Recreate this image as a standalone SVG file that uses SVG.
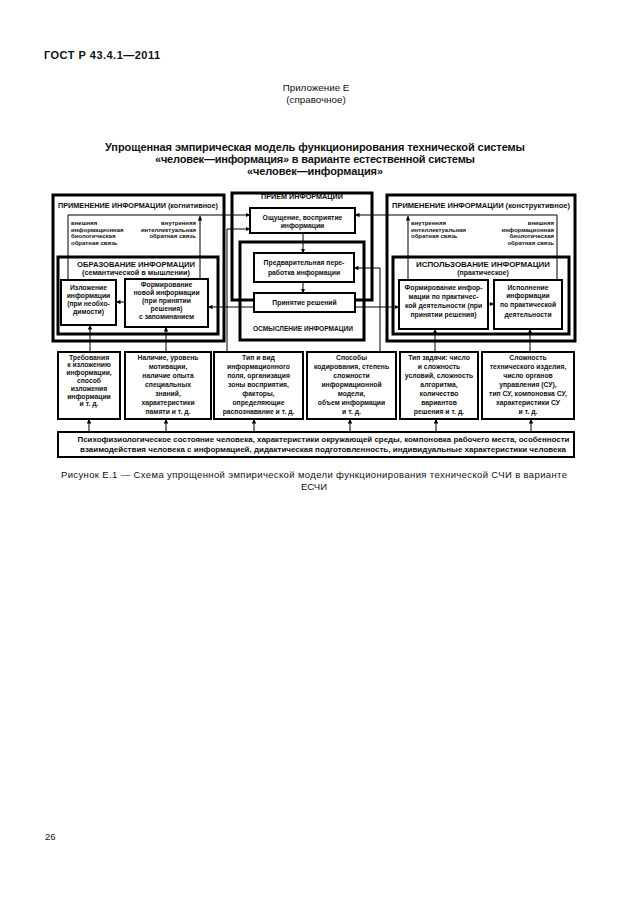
<svg xmlns="http://www.w3.org/2000/svg" width="630" height="913" viewBox="0 0 630 913">
<style>
text{font-family:"Liberation Sans",Arial,sans-serif;fill:#111}
.b{font-weight:bold}
.t{font-weight:bold;font-size:6.8px;text-anchor:middle}
.h{font-weight:bold;font-size:7px;text-anchor:middle}
.f{font-weight:bold;font-size:6px}
.e{text-anchor:end}
.th{fill:none;stroke:#000;stroke-width:3}
.bx{fill:#fff;stroke:#000;stroke-width:2}
.ln{fill:none;stroke:#000;stroke-width:1;marker-end:url(#a)}
</style>
<defs>
<marker id="a" viewBox="0 0 6 6" refX="6" refY="3" markerWidth="4.5" markerHeight="4.5" markerUnits="userSpaceOnUse" orient="auto"><path d="M0,0L6,3L0,6z" fill="#000"/></marker>
</defs>
<rect width="630" height="913" fill="#fff"/>

<g id="header">
<text class="b" x="44" y="59" font-size="11" textLength="116">ГОСТ Р 43.4.1—2011</text>
<text x="316" y="91" font-size="9.8" text-anchor="middle" fill="#222">Приложение Е</text>
<text x="316" y="103" font-size="9.8" text-anchor="middle" fill="#222">(справочное)</text>
<text class="b" x="315" y="151" font-size="11" text-anchor="middle" textLength="420">Упрощенная эмпирическая модель функционирования технической системы</text>
<text class="b" x="315" y="163" font-size="11" text-anchor="middle" textLength="320">«человек—информация» в варианте естественной системы</text>
<text class="b" x="315" y="175" font-size="11" text-anchor="middle" textLength="136">«человек—информация»</text>
</g>

<!-- frames -->
<g id="left-group">
<rect class="th" x="53" y="195" width="171" height="146"/>
<text class="h" x="138" y="207.5" textLength="160" lengthAdjust="spacingAndGlyphs">ПРИМЕНЕНИЕ ИНФОРМАЦИИ (когнитивное)</text>
<text class="f" x="71" y="225">внешняя</text>
<text class="f" x="71" y="231.5">информационная</text>
<text class="f" x="71" y="238">биологическая</text>
<text class="f" x="71" y="244.5">обратная связь</text>
<text class="f e" x="196" y="225">внутренняя</text>
<text class="f e" x="196" y="231.5">интеллектуальная</text>
<text class="f e" x="196" y="238">обратная связь</text>
</g>
<g id="obrazovanie">
<rect class="th" x="58" y="257" width="160" height="77"/>
<text class="h" x="136" y="266.5" textLength="118" lengthAdjust="spacingAndGlyphs">ОБРАЗОВАНИЕ ИНФОРМАЦИИ</text>
<text class="h" x="136" y="275" textLength="108" lengthAdjust="spacingAndGlyphs">(семантической в мышлении)</text>
</g>

<g id="right-group">
<rect class="th" x="387" y="195" width="188" height="146"/>
<text class="h" x="481" y="207.5" textLength="178" lengthAdjust="spacingAndGlyphs">ПРИМЕНЕНИЕ ИНФОРМАЦИИ (конструктивное)</text>
<text class="f" x="411" y="225">внутренняя</text>
<text class="f" x="411" y="231.5">интеллектуальная</text>
<text class="f" x="411" y="238">обратная связь</text>
<text class="f e" x="554" y="225">внешняя</text>
<text class="f e" x="554" y="231.5">информационная</text>
<text class="f e" x="554" y="238">биологическая</text>
<text class="f e" x="554" y="244.5">обратная связь</text>
</g>
<g id="ispolzovanie">
<rect class="th" x="393" y="257" width="176" height="77"/>
<text class="h" x="483" y="266.5" textLength="134" lengthAdjust="spacingAndGlyphs">ИСПОЛЬЗОВАНИЕ ИНФОРМАЦИИ</text>
<text class="h" x="483" y="275">(практическое)</text>
</g>

<g id="priem">
<path class="th" d="M254,300H232V193H372V300H355"/>
<text class="h" x="302" y="199" textLength="82" lengthAdjust="spacingAndGlyphs">ПРИЕМ ИНФОРМАЦИИ</text>
</g>
<g id="osmyslenie">
<rect class="th" x="240" y="242" width="124" height="98"/>
<text class="h" x="303" y="331" textLength="100" lengthAdjust="spacingAndGlyphs">ОСМЫСЛЕНИЕ ИНФОРМАЦИИ</text>
</g>

<!-- connectors -->
<g id="connectors">
<path class="ln" d="M68,280V215H250"/>
<path class="ln" d="M200,279V216"/>
<path class="ln" d="M557,280V215H355"/>
<path class="ln" d="M408,280V216"/>
<path class="ln" d="M227,352V229H250"/>
<path class="ln" d="M380,352V268H354"/>
<path class="ln" d="M303,233V253"/>
<path class="ln" d="M303,282V293"/>
<path class="ln" d="M254,307H208"/>
<path class="ln" d="M355,307H399"/>
<path class="ln" d="M125,302H116"/>
<path class="ln" d="M488,304H494"/>
<path class="ln" d="M90,352V325"/>
<path class="ln" d="M166,352V327"/>
<path class="ln" d="M435,352V329"/>
<path class="ln" d="M530,352V329"/>
<path class="ln" d="M89,432V419"/>
<path class="ln" d="M166,432V419"/>
<path class="ln" d="M254,432V419"/>
<path class="ln" d="M350,432V419"/>
<path class="ln" d="M436,432V419"/>
<path class="ln" d="M531,432V419"/>
</g>

<!-- inner nodes -->
<g id="izlozhenie">
<rect class="bx" x="61" y="280" width="55" height="45"/>
<text class="t" x="88.5" y="289.5">Изложение</text>
<text class="t" x="88.5" y="297.5">информации</text>
<text class="t" x="88.5" y="305.5">(при необхо-</text>
<text class="t" x="88.5" y="313.5">димости)</text>
</g>
<g id="formirovanie-novoy">
<rect class="bx" x="125" y="279" width="83" height="48"/>
<text class="t" x="166.5" y="286.5">Формирование</text>
<text class="t" x="166.5" y="294.5">новой информации</text>
<text class="t" x="166.5" y="302.5">(при принятии</text>
<text class="t" x="166.5" y="310.5">решения)</text>
<text class="t" x="166.5" y="319">с запоминанием</text>
</g>
<g id="oshchushchenie">
<rect class="bx" x="250" y="208" width="105" height="25"/>
<text class="t" x="302.5" y="219.5">Ощущение, восприятие</text>
<text class="t" x="302.5" y="227.5">информации</text>
</g>
<g id="pererabotka">
<rect class="bx" x="254" y="253" width="100" height="29"/>
<text class="t" x="304" y="264.5">Предварительная пере-</text>
<text class="t" x="304" y="275">работка информации</text>
</g>
<g id="prinyatie">
<rect class="bx" x="254" y="293" width="101" height="19"/>
<text class="t" x="304.5" y="305">Принятие решений</text>
</g>
<g id="formirovanie-prakt">
<rect class="bx" x="399" y="280" width="89" height="49"/>
<text class="t" x="443.5" y="289.5">Формирование инфор-</text>
<text class="t" x="443.5" y="298.5">мации по практичес-</text>
<text class="t" x="443.5" y="307.5">кой деятельности (при</text>
<text class="t" x="443.5" y="316.5">принятии решения)</text>
</g>
<g id="ispolnenie">
<rect class="bx" x="494" y="280" width="68" height="49"/>
<text class="t" x="528" y="289.5">Исполнение</text>
<text class="t" x="528" y="297.5">информации</text>
<text class="t" x="528" y="307">по практической</text>
<text class="t" x="528" y="316.5">деятельности</text>
</g>

<!-- bottom boxes -->
<g id="box1">
<rect class="bx" x="58" y="352" width="62" height="67"/>
<text class="t" x="89" y="359.5">Требования</text>
<text class="t" x="89" y="367.3">к изложению</text>
<text class="t" x="89" y="375.1">информации,</text>
<text class="t" x="89" y="382.9">способ</text>
<text class="t" x="89" y="390.7">изложения</text>
<text class="t" x="89" y="398.5">информации</text>
<text class="t" x="89" y="406.3">и т. д.</text>
</g>
<g id="box2">
<rect class="bx" x="125" y="352" width="86" height="67"/>
<text class="t" x="168" y="359.5">Наличие, уровень</text>
<text class="t" x="168" y="368.5">мотивации,</text>
<text class="t" x="168" y="377.5">наличие опыта</text>
<text class="t" x="168" y="386.5">специальных</text>
<text class="t" x="168" y="395.5">знаний,</text>
<text class="t" x="168" y="404.5">характеристики</text>
<text class="t" x="168" y="413.5">памяти и т. д.</text>
</g>
<g id="box3">
<rect class="bx" x="214" y="352" width="89" height="67"/>
<text class="t" x="258.5" y="359.5">Тип и вид</text>
<text class="t" x="258.5" y="368.5">информационного</text>
<text class="t" x="258.5" y="377.5">поля, организация</text>
<text class="t" x="258.5" y="386.5">зоны восприятия,</text>
<text class="t" x="258.5" y="395.5">факторы,</text>
<text class="t" x="258.5" y="404.5">определяющие</text>
<text class="t" x="258.5" y="413.5">распознавание и т. д.</text>
</g>
<g id="box4">
<rect class="bx" x="307" y="352" width="89" height="67"/>
<text class="t" x="351.5" y="359.5">Способы</text>
<text class="t" x="351.5" y="368.5">кодирования, степень</text>
<text class="t" x="351.5" y="377.5">сложности</text>
<text class="t" x="351.5" y="386.5">информационной</text>
<text class="t" x="351.5" y="395.5">модели,</text>
<text class="t" x="351.5" y="404.5">объем информации</text>
<text class="t" x="351.5" y="413.5">и т. д.</text>
</g>
<g id="box5">
<rect class="bx" x="400" y="352" width="78" height="67"/>
<text class="t" x="439" y="359.5">Тип задачи: число</text>
<text class="t" x="439" y="368.5">и сложность</text>
<text class="t" x="439" y="377.5">условий, сложность</text>
<text class="t" x="439" y="386.5">алгоритма,</text>
<text class="t" x="439" y="395.5">количество</text>
<text class="t" x="439" y="404.5">вариантов</text>
<text class="t" x="439" y="413.5">решения и т. д.</text>
</g>
<g id="box6">
<rect class="bx" x="482" y="352" width="92" height="67"/>
<text class="t" x="528" y="359.5">Сложность</text>
<text class="t" x="528" y="368.5">технического изделия,</text>
<text class="t" x="528" y="377.5">число органов</text>
<text class="t" x="528" y="386.5">управления (СУ),</text>
<text class="t" x="528" y="395.5">тип СУ, компоновка СУ,</text>
<text class="t" x="528" y="404.5">характеристики СУ</text>
<text class="t" x="528" y="413.5">и т. д.</text>
</g>
<g id="bottom-bar">
<rect class="bx" x="58" y="432" width="516" height="25"/>
<text class="t" x="323.5" y="442" font-size="7.2" textLength="492" lengthAdjust="spacingAndGlyphs">Психофизиологическое состояние человека, характеристики окружающей среды, компоновка рабочего места, особенности</text>
<text class="t" x="323" y="451.5" font-size="7.2" textLength="486" lengthAdjust="spacingAndGlyphs">взаимодействия человека с информацией, дидактическая подготовленность, индивидуальные характеристики человека</text>
</g>

<g id="caption">
<text x="314" y="478" font-size="9.5" text-anchor="middle" fill="#444" textLength="506">Рисунок Е.1 — Схема упрощенной эмпирической модели функционирования технической СЧИ в варианте</text>
<text x="314" y="490" font-size="9.5" text-anchor="middle" fill="#444">ЕСЧИ</text>
<text x="45" y="840" font-size="9.5" fill="#222">26</text>
</g>
</svg>
